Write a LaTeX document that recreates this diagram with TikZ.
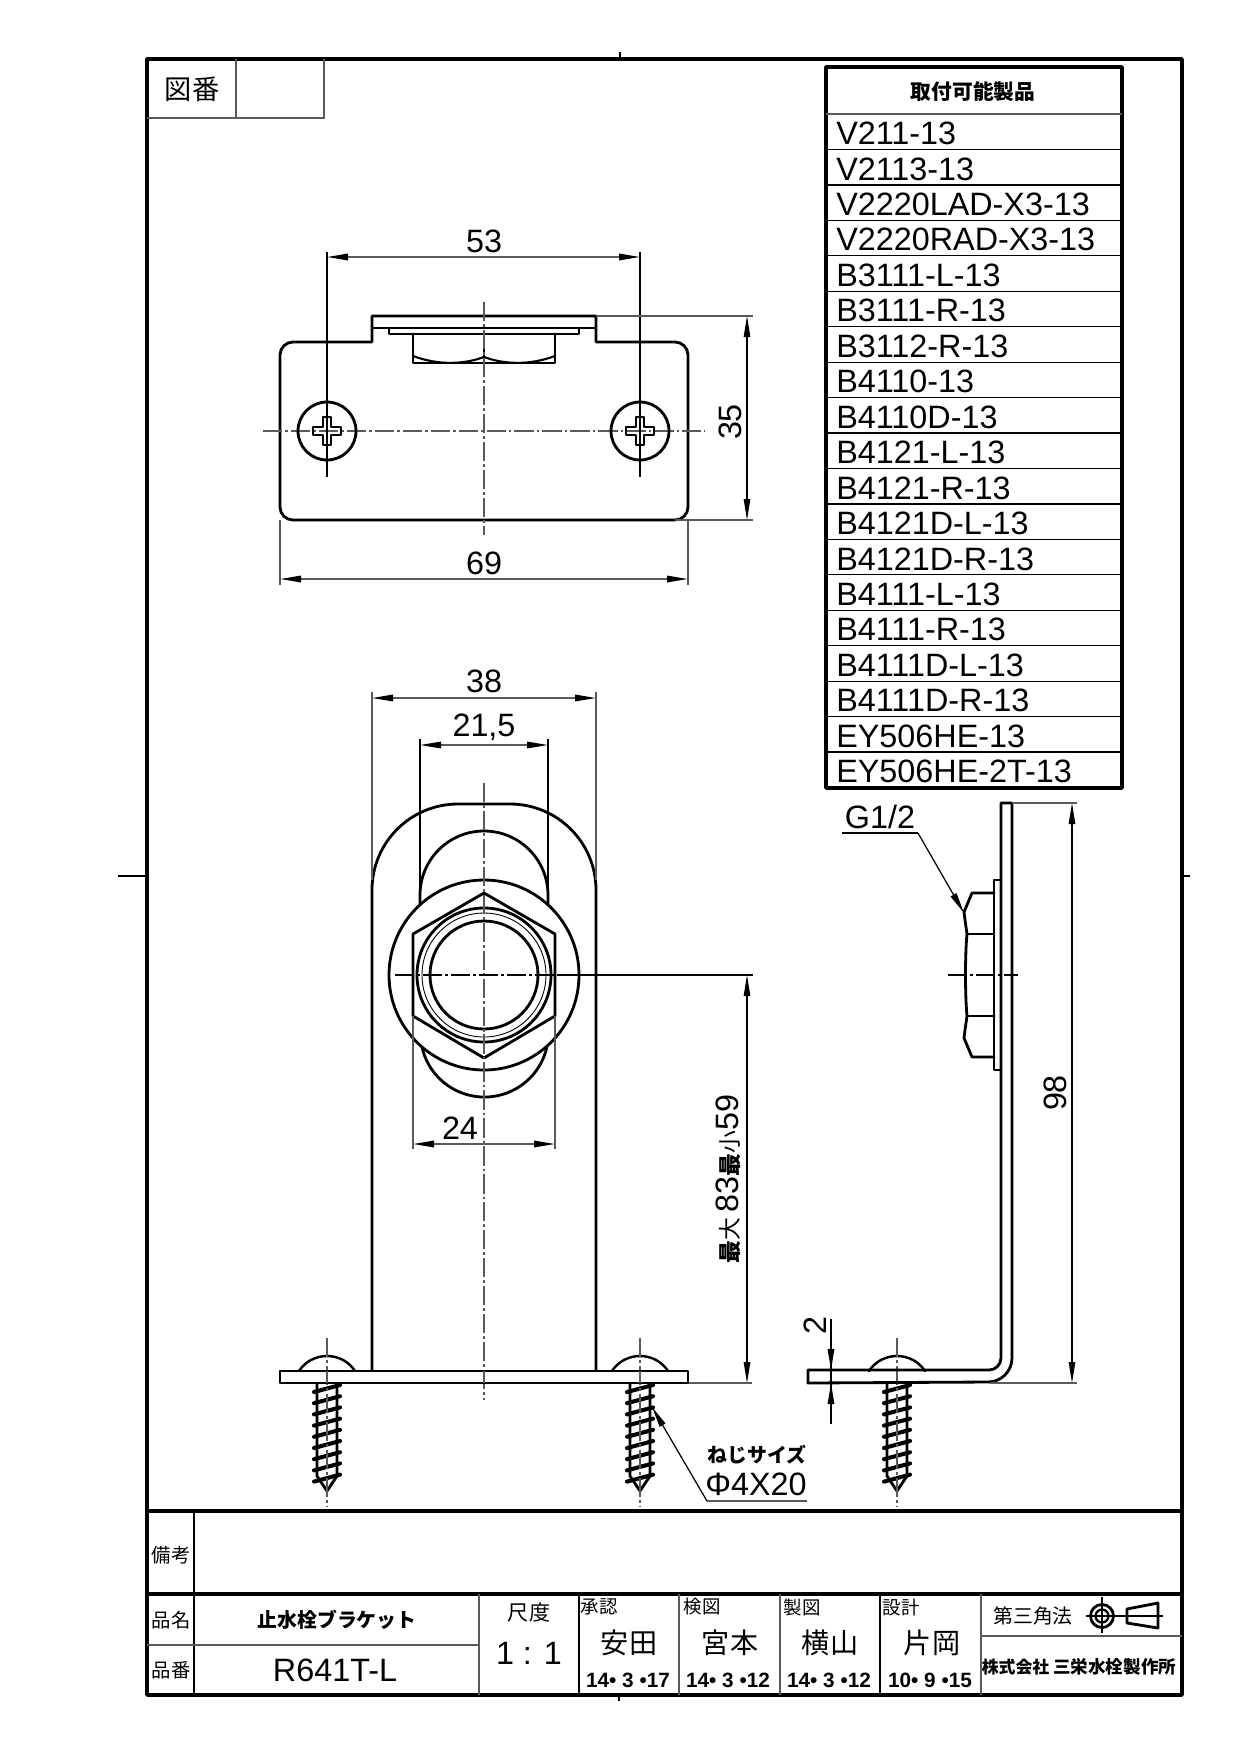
\documentclass[tikz,border=0pt]{standalone}
\usepackage{fontspec}
\setmainfont{Liberation Sans}
\newfontfamily\cjk{Noto Sans CJK JP}
\usetikzlibrary{arrows.meta}
\definecolor{dimgray}{HTML}{5A5A5A}
\tikzstyle{outline} = [line width=1.6pt, line join=round, line cap=round]
\tikzstyle{frameline} = [line width=2pt, line join=round]
\tikzstyle{midline} = [line width=1.1pt, color=dimgray]
\tikzstyle{thinline} = [line width=.7pt]
\tikzstyle{dimline} = [line width=.9pt, color=dimgray, arrows={Triangle[length=4.2mm,width=1.3mm,color=black]-Triangle[length=4.2mm,width=1.3mm,color=black]}]
\tikzstyle{thindim} = [line width=.6pt, arrows={Triangle[length=4.2mm,width=1.3mm]-Triangle[length=4.2mm,width=1.3mm]}]
\tikzstyle{extline} = [line width=.9pt, color=dimgray]
\tikzstyle{centerline} = [line width=.8pt, color=dimgray, dash pattern=on 11pt off 1.7pt on 1.5pt off 1.7pt]
\tikzstyle{label} = [inner sep=0pt, font=\fontsize{18.4}{20}\selectfont]
\tikzstyle{cjksmall} = [inner sep=0pt, font=\cjk\fontsize{10.5}{12}\selectfont]
\tikzstyle{cjkname} = [inner sep=0pt, font=\cjk\fontsize{16}{18}\selectfont]
\tikzstyle{cjkbold} = [inner sep=0pt, font=\cjk\bfseries\fontsize{11.3}{13}\selectfont]
\tikzstyle{datetext} = [inner sep=0pt, font=\bfseries\fontsize{11.8}{14}\selectfont]
\begin{document}
\begin{tikzpicture}[x=.2mm, y=-.2mm]
    \useasboundingbox [fill=white] (0,0) rectangle (1240,1754);
    % sheet frame
    \draw [frameline] (147,59) rectangle (1182,1695);
    \draw [thinline] (620,52) -- (620,59);
    \draw [thinline] (619,1695) -- (619,1701);
    \draw [thinline] (118,876) -- (147,876);
    \draw [thinline] (1182,876) -- (1190,876);
    \draw [midline] (147,118) -- (324,118) -- (324,59);
    \draw [midline] (236,59) -- (236,118);
    \node (zuban) [cjkname, font=\cjk\fontsize{15.5}{17}\selectfont] at (192,89) {図番};
    % parts table
    \draw [frameline] (826,67) rectangle (1122,788);
    \draw [midline] (826,114) -- (1122,114);
    \node (tabletitle) [cjkbold, font=\cjk\bfseries\fontsize{11.8}{13}\selectfont] at (973,92) {取付可能製品};
    \foreach \i/\txt in {0/V211-13, 1/V2113-13, 2/V2220LAD-X3-13, 3/V2220RAD-X3-13,
        4/B3111-L-13, 5/B3111-R-13, 6/B3112-R-13, 7/B4110-13, 8/B4110D-13, 9/B4121-L-13,
        10/B4121-R-13, 11/B4121D-L-13, 12/B4121D-R-13, 13/B4111-L-13, 14/B4111-R-13,
        15/B4111D-L-13, 16/B4111D-R-13, 17/EY506HE-13, 18/EY506HE-2T-13} {
        \node (row\i) [label, anchor=west] at (836,{133.5+\i*35.45}) {\txt};
        \ifnum\i<18
            \draw [thinline] (826,{114+(\i+1)*35.45}) -- (1122,{114+(\i+1)*35.45});
        \fi
    }
    % top view
    \draw [outline] (372,342) -- (372,316) -- (596,316) -- (596,342) -- (675,342)
        arc (270:360:13) -- (688,507) arc (0:90:13) -- (293,520) arc (90:180:13)
        -- (280,355) arc (180:270:13) -- cycle;
    \draw [outline, line width=1.2pt] (372,328) -- (596,328);
    \draw [outline, line width=1.2pt] (389,328) rectangle (579,334);
    \draw [outline] (413,334) -- (413,363) -- (555,363) -- (555,334);
    \draw [outline, line width=1.2pt] (413,356) .. controls (440,366) and (465,364) .. (484,357)
        .. controls (503,364) and (528,366) .. (555,356);
    \draw [outline] (484,334) -- (484,357);
    \draw [centerline] (484,302) -- (484,535);
    \draw [centerline] (263,431) -- (705,431);
    \foreach \x in {327,640} {
        \draw [outline] (\x,431) circle (29);
        \draw [outline] (\x-4,417) -- (\x+4,417) -- (\x+4,427) -- (\x+14,427)
            -- (\x+14,435) -- (\x+4,435) -- (\x+4,445) -- (\x-4,445) -- (\x-4,435) -- (\x-14,435)
            -- (\x-14,427) -- (\x-4,427) -- cycle;
        \draw [thinline] (\x,252) -- (\x,477);
    }
    \draw [dimline] (327,257) -- (640,257);
    \node (dimA) [label] at (484,241) {53};
    \draw [extline] (280,520) -- (280,585);
    \draw [extline] (688,520) -- (688,585);
    \draw [dimline] (280,579) -- (688,579);
    \node (dimB) [label] at (484,563) {69};
    \draw [extline] (596,316) -- (753,316);
    \draw [extline] (675,520) -- (753,520);
    \draw [thindim] (747,316) -- (747,520);
    \node (dimC) [label, rotate=90] at (730,422) {35};
    % front view
    \draw [outline] (372,1371) -- (372,890) arc (180:270:86) -- (510,804) arc (270:360:86) -- (596,1371);
    \draw [outline] (420,906) -- (420,895) arc (180:360:64) -- (548,906);
    \draw [outline] (422,1047) arc (167.4:12.6:64);
    \draw [outline, fill=white] (484,975) circle (95);
    \draw [outline] (484,893) -- (555,934) -- (555,1016) -- (484,1058) -- (413,1016) -- (413,934) -- cycle;
    \draw [outline] (484,975) circle (67);
    \draw [thinline, line width=.5pt] (484,975) circle (62);
    \draw [outline] (484,975) circle (54);
    \draw [centerline] (484,783) -- (484,1400);
    \draw [thinline, dash pattern=on 11pt off 1.7pt on 1.5pt off 1.7pt] (395,975) -- (557,975);
    \draw [thinline] (557,975) -- (753,975);
    \draw [extline] (372,692) -- (372,880);
    \draw [extline] (596,692) -- (596,880);
    \draw [dimline] (372,698) -- (596,698);
    \node (dimD) [label] at (484,681) {38};
    \draw [thinline] (420,739) -- (420,895);
    \draw [thinline] (548,739) -- (548,895);
    \draw [dimline] (420,745) -- (548,745);
    \node (dimE) [label] at (484,727) {21,5};
    \draw [extline] (413,1016) -- (413,1149);
    \draw [extline] (555,1016) -- (555,1149);
    \draw [dimline] (413,1144) -- (555,1144);
    \node (dimF) [label] at (460,1128) {24};
    \draw [thindim] (747,975) -- (747,1383);
    \draw [extline] (688,1383) -- (752,1383);
    \node (dimG) [label, rotate=90] at (728,1179)
        {{\cjk\bfseries\fontsize{13}{14}\selectfont 最}{\cjk\fontsize{13}{14}\selectfont 大}\,83{\cjk\bfseries\fontsize{13}{14}\selectfont 最}{\cjk\fontsize{13}{14}\selectfont 小}59};
    % screws, one for each view
    \foreach \x in {327,640,897} {
        \draw [outline, line width=1.4pt] (\x-28,1371) .. controls (\x-15,1351) and (\x+15,1351) .. (\x+28,1371);
        \draw [outline] (\x-10,1384) -- (\x-10,1476) -- (\x,1491) -- (\x+10,1476) -- (\x+10,1384);
        \foreach \k in {0,...,8} {
            \draw [outline, line width=2.3pt] (\x-13,{1392+\k*11.2}) -- (\x+13,{1385+\k*11.2});
        }
        \draw [thinline, color=dimgray, dash pattern=on 11pt off 1.7pt on 1.5pt off 1.7pt] (\x,1338) -- (\x,1507);
    }
    \draw [outline, fill=white] (280,1371) rectangle (688,1383);
    \draw [centerline] (327,1371) -- (327,1383);
    \draw [centerline] (640,1371) -- (640,1383);
    \draw [centerline] (484,1371) -- (484,1383);
    % leader of the screw
    \draw [extline] (807,1501) -- (707,1501);
    \draw [thinline, -{Triangle[length=4.2mm,width=1.3mm]}] (707,1501) -- (652,1407);
    \node (screwtitle) [cjkbold] at (757,1455) {ねじサイズ};
    \node (screwsize) [label] at (756,1484) {Φ4X20};
    % side view
    \draw [outline] (1001,803) -- (1012,803) -- (1012,1358) arc (0:90:24) -- (808,1383)
        -- (808,1370) -- (989,1370) arc (90:0:12) -- cycle;
    \draw [outline] (1001,880) -- (994,880) -- (994,1070) -- (1001,1070);
    \draw [outline] (994,893) -- (972,893) -- (964,912) .. controls (965,920) .. (967,934)
        .. controls (965,955) and (965,995) .. (967,1016) .. controls (965,1030) .. (964,1038)
        -- (972,1057) -- (994,1057);
    \draw [outline] (967,934) -- (994,934);
    \draw [outline] (967,1016) -- (994,1016);
    \draw [thinline, dash pattern=on 11pt off 1.7pt on 1.5pt off 1.7pt] (948,975) -- (1018,975);
    \draw [extline] (1012,803) -- (1077,803);
    \draw [extline] (990,1383) -- (1077,1383);
    \draw [thindim] (1072,803) -- (1072,1383);
    \node (dimH) [label, rotate=90] at (1055,1093) {98};
    \draw [thinline] (842,833) -- (918,833);
    \draw [thinline, -{Triangle[length=4.2mm,width=1.3mm]}] (918,833) -- (964,913);
    \node (thread) [label] at (880,817) {G1/2};
    \draw [thinline] (831,1319) -- (831,1424);
    \draw [thinline, -{Triangle[length=4.2mm,width=1.3mm]}] (831,1340) -- (831,1370);
    \draw [thinline, -{Triangle[length=4.2mm,width=1.3mm]}] (831,1410) -- (831,1383);
    \node (dimJ) [label, rotate=90] at (815,1325) {2};
    % title block
    \draw [frameline] (147,1511) -- (1182,1511);
    \draw [frameline] (147,1594) -- (1182,1594);
    \draw [thinline] (194,1511) -- (194,1695);
    \draw [midline] (147,1645) -- (479,1645);
    \draw [midline] (479,1594) -- (479,1695);
    \draw [thinline] (579,1594) -- (579,1695);
    \draw [midline] (679,1594) -- (679,1695);
    \draw [midline] (780,1594) -- (780,1695);
    \draw [thinline] (880,1594) -- (880,1695);
    \draw [midline] (981,1594) -- (981,1695);
    \draw [midline] (981,1636) -- (1182,1636);
    \node (bikou) [cjksmall, font=\cjk\fontsize{11}{13}\selectfont] at (171,1555) {備考};
    \node (hinmei) [cjksmall, font=\cjk\fontsize{11}{13}\selectfont] at (171,1620) {品名};
    \node (hinban) [cjksmall, font=\cjk\fontsize{11}{13}\selectfont] at (171,1670) {品番};
    \node (partname) [cjkbold] at (337,1620) {止水栓ブラケット};
    \node (partno) [label] at (335,1670) {R641T-L};
    \node (shakudo) [cjkname, font=\cjk\fontsize{12}{14}\selectfont] at (529,1613) {尺度};
    \node (scale) [label] at (529,1653) {1 : 1};
    \node (rolea) [cjksmall] at (599,1607) {承認};
    \node (roleb) [cjksmall] at (702,1607) {検図};
    \node (rolec) [cjksmall] at (802,1607) {製図};
    \node (roled) [cjksmall] at (901,1607) {設計};
    \node (whoa) [cjkname] at (629,1643) {安田};
    \node (whob) [cjkname] at (730,1643) {宮本};
    \node (whoc) [cjkname] at (830,1643) {横山};
    \node (whod) [cjkname] at (932,1643) {片岡};
    \node (datea) [datetext] at (628,1680) {14• 3 •17};
    \node (dateb) [datetext] at (728,1680) {14• 3 •12};
    \node (datec) [datetext] at (829,1680) {14• 3 •12};
    \node (dated) [datetext] at (930,1680) {10• 9 •15};
    \node (method) [cjksmall, font=\cjk\fontsize{11.3}{13}\selectfont] at (1033,1616) {第三角法};
    \draw [thinline] (1086,1616) -- (1163,1616);
    \draw [thinline] (1102,1597) -- (1102,1633);
    \draw [outline] (1102,1616) circle (11.5);
    \draw [outline, line width=1.3pt] (1102,1616) circle (6.5);
    \draw [outline] (1127,1609) -- (1158,1603) -- (1158,1628) -- (1127,1623) -- cycle;
    \node (company) [cjkbold, font=\cjk\bfseries\fontsize{9.6}{11}\selectfont] at (1079,1667)
        {株式会社 \fontsize{10}{11}\selectfont 三栄水栓製作所};
\end{tikzpicture}
\end{document}
